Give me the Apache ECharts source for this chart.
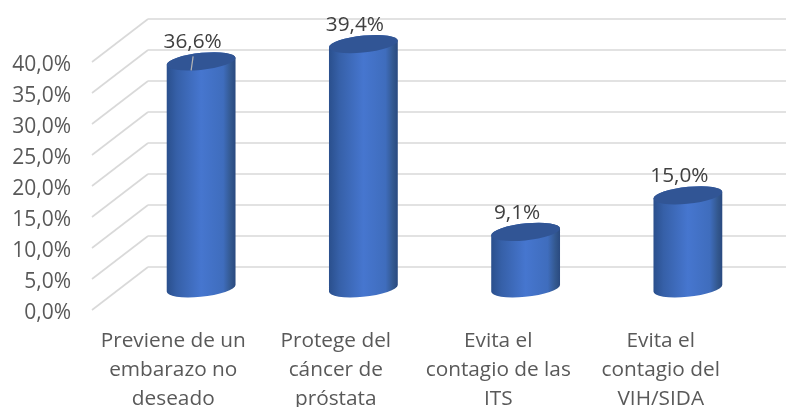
<!DOCTYPE html>
<html>
<head>
<meta charset="utf-8">
<style>
  html, body { margin: 0; padding: 0; background: #fff; }
  #chart { width: 786px; height: 407px; }
</style>
<script src="https://cdn.jsdelivr.net/npm/echarts@6/dist/echarts.min.js"></script>
</head>
<body>
<div id="chart"></div>
<script>
const categories = ['Previene de un\nembarazo no\ndeseado', 'Protege del\ncáncer de\npróstata', 'Evita el\ncontagio de las\nITS', 'Evita el\ncontagio del\nVIH/SIDA']
const values = [36.6, 39.4, 9.1, 15.0]
const yTicks = [0, 5, 10, 15, 20, 25, 30, 35, 40]

const FONT = '"Open Sans"'
const RX = 34.4
const RY = 8.4
const TILT = -6
const END_DY = 3.3

const fmt = v => v.toFixed(1).replace('.', ',') + '%'

const bodyFill = new echarts.graphic.LinearGradient(0, 0, 1, 0, [
  { offset: 0, color: '#2a4f8c' },
  { offset: 0.15, color: '#3660a8' },
  { offset: 0.5, color: '#4676cf' },
  { offset: 0.82, color: '#3f6dbd' },
  { offset: 0.93, color: '#33588f' },
  { offset: 1, color: '#29497f' },
])

function renderCylinder(params, api) {
  const i = api.value(0)
  const v = api.value(1)
  const top = api.coord([i, v])
  const base = api.coord([i, 0])
  const lx = top[0] - RX
  const rx = top[0] + RX
  const arc = (x, y) => `A ${RX} ${RY} ${TILT} 0 0 ${x} ${y}`
  const body = `M ${lx} ${top[1] + END_DY} L ${lx} ${base[1] + END_DY} ${arc(rx, base[1] - END_DY)} ` +
    `L ${rx} ${top[1] - END_DY} ${arc(lx, top[1] + END_DY)} Z`
  const cap = `M ${lx} ${top[1] + END_DY} A ${RX} ${RY} ${TILT} 0 1 ${rx} ${top[1] - END_DY} ` +
    `A ${RX} ${RY} ${TILT} 0 1 ${lx} ${top[1] + END_DY} Z`
  const children = [
    { type: 'path', shape: { pathData: body, layout: 'none' }, style: { fill: bodyFill } },
    { type: 'path', shape: { pathData: cap, layout: 'none' }, style: { fill: '#315595' } },
    {
      type: 'text',
      style: {
        text: fmt(v), x: top[0] - 8.5, y: top[1] - 19, align: 'center', verticalAlign: 'middle',
        fontFamily: FONT, fontSize: 20.8, fill: '#404040',
      },
    },
  ]
  // solo la primera etiqueta tiene linea guia
  if (params.dataIndex === 0) {
    children.push({
      type: 'line',
      shape: { x1: top[0] - 8, y1: top[1] - 5, x2: top[0] - 10, y2: top[1] + 9 },
      style: { stroke: '#b5b5b5', lineWidth: 1.2 },
    })
  }
  return { type: 'group', children }
}

function renderDiagonal(params, api) {
  const p = api.coord([0, api.value(1)])
  const x = params.coordSys.x
  return {
    type: 'line',
    shape: { x1: x, y1: p[1], x2: x + 56, y2: p[1] - 43 },
    style: { stroke: '#d9d9d9', lineWidth: 1.6 },
  }
}

const chart = echarts.init(document.getElementById('chart'))
chart.setOption({
  backgroundColor: '#fff',
  animation: false,
  grid: [
    { left: 92, right: 44, top: 62, bottom: 97, outerBoundsMode: 'none' },
    { left: 148, right: 0, top: 19, bottom: 140, outerBoundsMode: 'none' },
    { left: 120, right: 17, top: 40.3, bottom: 118.7, outerBoundsMode: 'none' },
  ],
  xAxis: [
    {
      type: 'category', gridIndex: 0, data: categories,
      axisLine: { show: false }, axisTick: { show: false },
      axisLabel: { color: '#595959', fontFamily: FONT, fontSize: 20.8, lineHeight: 29, margin: 17, interval: 0 },
    },
    { type: 'category', gridIndex: 1, data: categories, show: false },
    { type: 'category', gridIndex: 2, data: categories, show: false },
  ],
  yAxis: [
    {
      type: 'value', gridIndex: 0, min: 0, max: 40, interval: 5,
      axisLine: { show: false }, axisTick: { show: false }, splitLine: { show: false },
      axisLabel: {
        margin: 21,
        formatter: v => '{t|' + fmt(v) + '}',
        rich: { t: { color: '#595959', fontFamily: FONT, fontSize: 21, padding: [7, 0, 0, 0] } },
      },
    },
    {
      type: 'value', gridIndex: 1, min: 0, max: 40, interval: 5,
      axisLine: { show: false }, axisTick: { show: false }, axisLabel: { show: false },
      splitLine: { show: true, lineStyle: { color: '#d9d9d9', width: 1.6 } },
    },
    {
      type: 'value', gridIndex: 2, min: 0, max: 40, interval: 5,
      axisLine: { show: false }, axisTick: { show: false }, axisLabel: { show: false }, splitLine: { show: false },
    },
  ],
  series: [
    {
      type: 'custom', xAxisIndex: 0, yAxisIndex: 0, clip: false, silent: true, z: 1,
      renderItem: renderDiagonal,
      data: yTicks.map(t => [0, t]),
    },
    {
      type: 'custom', xAxisIndex: 2, yAxisIndex: 2, clip: false, z: 3,
      renderItem: renderCylinder,
      data: values.map((v, i) => [i, v]),
    },
  ],
})
</script>
</body>
</html>
